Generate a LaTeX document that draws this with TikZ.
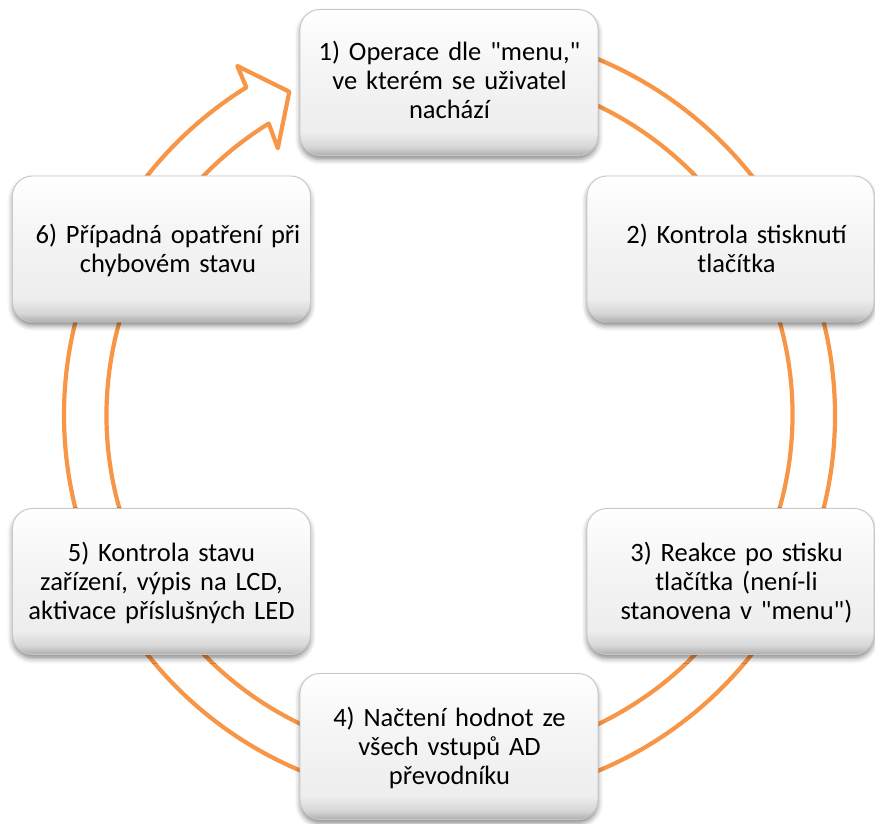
\documentclass[tikz,border=0pt]{standalone}
\usepackage{fontspec}
\setmainfont{Carlito}[Ligatures=TeXOff]
\usetikzlibrary{shadows.blur}
\definecolor{ringorange}{HTML}{F79646}
% soft grey card fill: light at the top, darker band along the bottom edge
\pgfdeclareverticalshading{cardshade}{100bp}{%
  color(0bp)=(black!32); color(25bp)=(black!32); color(28bp)=(black!16);
  color(33bp)=(black!7); color(55bp)=(black!4); color(75bp)=(white); color(100bp)=(white)}
\begin{document}
\begin{tikzpicture}[x=1pt,y=1pt,
  card/.style={rounded corners=20pt, shading=cardshade, draw=black!22, line width=0.9pt,
    blur shadow={shadow xshift=0pt, shadow yshift=-4pt, shadow opacity=45, shadow blur radius=5pt},
    minimum height=146pt, inner sep=0pt},
  wide/.style={minimum width=298pt},
  narrow/.style={minimum width=287pt},
  caption/.style={text width=300pt, align=center, anchor=base, inner sep=0pt,
    font=\fontsize{26.5}{29}\selectfont}]
\useasboundingbox (0,0) rectangle (875,823);
\coordinate (c) at (449.5,408);
% circular outline arrow running clockwise round the cycle
\draw[ringorange, line width=4.2pt, line join=round]
  ([shift={(95:385.5)}]c) arc[start angle=95, end angle=-238.2, radius=385.5]
  -- (237.3,757) -- (289.3,731.3) -- (277.8,674.7)
  -- ([shift={(121.8:343)}]c) arc[start angle=121.8, end angle=455, radius=343] -- cycle;
% cards
\node[card, wide]   (b1) at (449,740.5) {};
\node[card, narrow] (b2) at (730.5,574) {};
\node[card, narrow] (b3) at (730.5,241.5) {};
\node[card, wide]   (b4) at (449,76.5) {};
\node[card, wide]   (b5) at (161.5,241.5) {};
\node[card, wide]   (b6) at (161.5,574) {};
% card texts
\node[caption] (t1) at (449.5,762.3) {1) Operace dle "menu,"\\ve kterém se uživatel\\nachází};
\node[caption] (t2) at (736.5,579.9) {2) Kontrola stisknutí\\tlačítka};
\node[caption] (t3) at (736.5,261.6) {3) Reakce po stisku\\tlačítka (není-li\\stanovena v "menu")};
\node[caption] (t4) at (449.5,96.8) {4) Načtení hodnot ze\\všech vstupů AD\\převodníku};
\node[caption] (t5) at (161.5,261.6) {5) Kontrola stavu\\zařízení, výpis na LCD,\\aktivace příslušných LED};
\node[caption] (t6) at (168,579.9) {6) Případná opatření při\\chybovém stavu};
\end{tikzpicture}
\end{document}
